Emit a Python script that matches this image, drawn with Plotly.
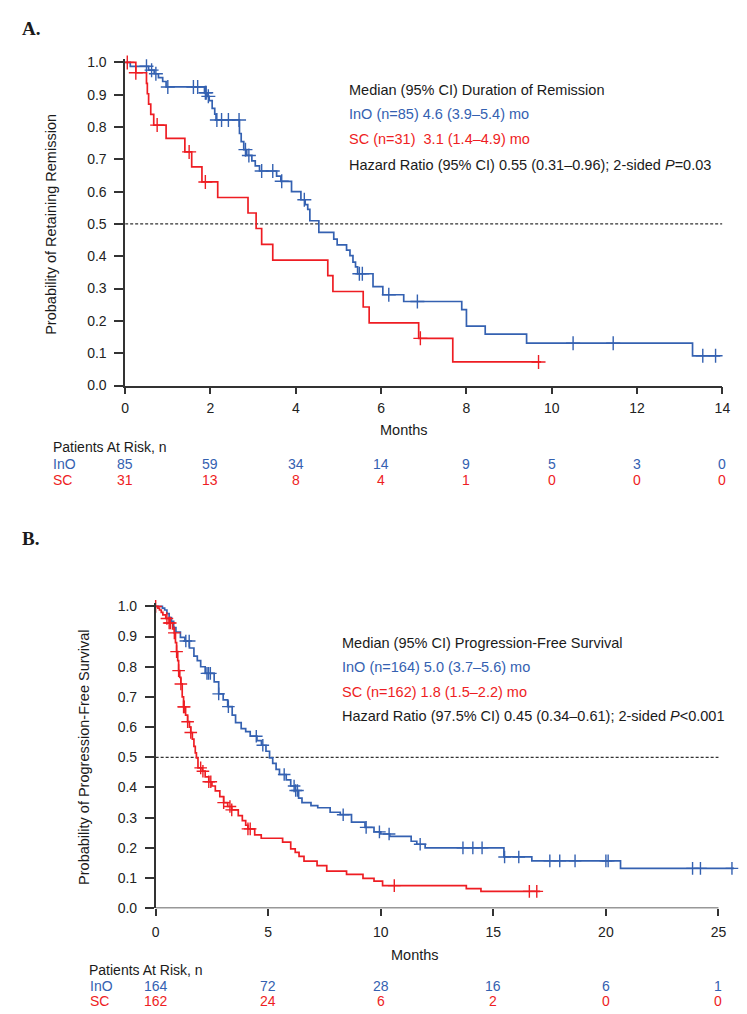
import numpy as np
import plotly.graph_objects as go

W, H = 747, 1014
BLUE = "#3461B1"
RED = "#EE1D23"
TXT = "#1a1a1a"
AX = "#333333"
FONT = "Liberation Sans, Arial, sans-serif"

# ---------------- Panel A: Duration of remission ----------------
a_ino_t = [0.12, 0.55, 0.68, 0.78, 0.88, 0.96, 1.86, 1.92, 1.97, 2.04, 2.10, 2.13,
           2.68, 2.72, 2.78, 2.85, 2.97, 3.05, 3.15, 3.55, 3.65, 3.90, 4.12, 4.22,
           4.28, 4.33, 4.54, 4.89, 4.97, 5.19, 5.27, 5.34, 5.40, 5.45, 5.81, 6.04,
           6.53, 7.89, 8.00, 8.44, 9.41, 13.30]
a_ino_s = [0.988, 0.976, 0.965, 0.953, 0.941, 0.924, 0.906, 0.895, 0.882, 0.858, 0.840, 0.822,
           0.780, 0.755, 0.730, 0.712, 0.695, 0.680, 0.664, 0.648, 0.632, 0.600, 0.575, 0.560,
           0.545, 0.510, 0.474, 0.453, 0.435, 0.419, 0.402, 0.382, 0.367, 0.346, 0.306, 0.281,
           0.260, 0.235, 0.184, 0.159, 0.131, 0.092]
a_ino_cens = [0.50, 0.62, 0.72, 1.00, 1.60, 1.70, 1.88, 1.90, 1.95, 2.15, 2.26, 2.42, 2.67,
              2.82, 2.90, 3.20, 3.46, 3.67, 4.20, 5.49, 5.56, 6.18, 6.85, 10.50, 11.44,
              13.54, 13.84]
a_ino_end = 13.95

a_sc_t = [0.25, 0.50, 0.52, 0.55, 0.60, 0.67, 0.96, 1.40, 1.56, 1.80, 2.17, 2.88, 3.07,
          3.20, 3.46, 4.75, 4.87, 5.58, 5.72, 6.88, 7.68]
a_sc_s = [0.968, 0.935, 0.903, 0.871, 0.839, 0.806, 0.765, 0.723, 0.677, 0.630, 0.582,
          0.534, 0.486, 0.437, 0.388, 0.340, 0.291, 0.243, 0.194, 0.146, 0.073]
a_sc_cens = [0.05, 0.25, 0.75, 1.50, 1.88, 6.92, 9.69]
a_sc_end = 9.75

a_ticks = [0, 2, 4, 6, 8, 10, 12, 14]
a_risk_ino = [85, 59, 34, 14, 9, 5, 3, 0]
a_risk_sc = [31, 13, 8, 4, 1, 0, 0, 0]

# ---------------- Panel B: Progression-free survival ----------------
b_ino_t = [0.30, 0.40, 0.50, 0.60, 0.70, 0.80, 0.90, 1.10, 1.30, 1.50, 1.70, 1.85, 2.00,
           2.20, 2.60, 2.80, 3.00, 3.20, 3.40, 3.55, 3.80, 4.00, 4.20, 4.50, 4.70, 4.90,
           5.06, 5.20, 5.35, 5.50, 5.80, 6.00, 6.20, 6.35, 6.50, 6.90, 7.20, 7.75, 8.20,
           8.70, 9.30, 9.70, 10.00, 10.40, 11.35, 11.60, 11.97, 15.47, 16.71, 20.65]
b_ino_s = [0.994, 0.988, 0.976, 0.963, 0.950, 0.930, 0.915, 0.897, 0.885, 0.862, 0.835,
           0.820, 0.800, 0.778, 0.750, 0.710, 0.690, 0.668, 0.640, 0.615, 0.595, 0.585,
           0.570, 0.555, 0.540, 0.520, 0.498, 0.480, 0.460, 0.443, 0.425, 0.405, 0.390,
           0.365, 0.350, 0.340, 0.333, 0.318, 0.310, 0.285, 0.268, 0.253, 0.246, 0.238,
           0.222, 0.212, 0.200, 0.170, 0.157, 0.132]
b_ino_cens = [1.34, 1.49, 2.28, 2.35, 2.43, 2.80, 3.23, 4.47, 4.76, 5.71, 6.15, 6.22, 6.30,
              8.33, 9.35, 9.94, 10.37, 11.75, 13.65, 14.09, 14.50, 15.50, 16.13, 17.51,
              17.95, 18.63, 20.00, 20.10, 23.85, 24.20, 25.60]
b_ino_end = 25.70

b_sc_t = [0.10, 0.17, 0.25, 0.32, 0.45, 0.60, 0.75, 0.83, 0.88, 0.93, 0.98, 1.02, 1.07,
          1.12, 1.18, 1.24, 1.33, 1.42, 1.50, 1.56, 1.63, 1.70, 1.76, 1.81, 1.88, 2.07,
          2.20, 2.36, 2.50, 2.65, 2.85, 3.02, 3.20, 3.38, 3.67, 3.85, 4.00, 4.10, 4.40,
          4.69, 5.64, 6.00, 6.20, 6.37, 6.59, 7.17, 7.60, 8.48, 9.21, 9.70, 10.08, 13.80,
          14.45]
b_sc_s = [0.994, 0.988, 0.980, 0.972, 0.960, 0.945, 0.925, 0.912, 0.880, 0.850, 0.820,
          0.787, 0.765, 0.743, 0.700, 0.667, 0.640, 0.618, 0.600, 0.582, 0.560, 0.536,
          0.515, 0.498, 0.465, 0.454, 0.435, 0.419, 0.405, 0.389, 0.370, 0.350, 0.337,
          0.326, 0.307, 0.290, 0.275, 0.263, 0.243, 0.232, 0.219, 0.197, 0.185, 0.172,
          0.156, 0.141, 0.123, 0.112, 0.099, 0.090, 0.075, 0.065, 0.056]
b_sc_cens = [0.00, 0.50, 0.60, 0.65, 0.83, 0.93, 1.02, 1.12, 1.24, 1.27, 1.42, 1.56, 2.00,
             2.10, 2.36, 2.45, 3.02, 3.30, 3.38, 4.10, 4.20, 10.60, 16.60, 16.93]
b_sc_end = 17.08

b_ticks = [0, 5, 10, 15, 20, 25]
b_risk_ino = [164, 72, 28, 16, 6, 1]
b_risk_sc = [162, 24, 6, 2, 0, 0]


def step_at(t, s, q):
    t = np.asarray(t)
    s = np.asarray(s)
    idx = np.searchsorted(t, np.asarray(q), side="right") - 1
    return np.where(idx >= 0, s[np.clip(idx, 0, None)], 1.0)


def px(x):
    return x / W


def py(y):
    return 1 - y / H


fig = go.Figure()


def add_curve(t, s, end, cens, color, xa, ya, msize):
    fig.add_trace(go.Scatter(
        x=[0] + list(t) + [end], y=[1.0] + list(s) + [s[-1]],
        mode="lines", line=dict(color=color, width=1.7, shape="hv"),
        xaxis=xa, yaxis=ya, hoverinfo="skip", showlegend=False))
    fig.add_trace(go.Scatter(
        x=cens, y=step_at(t, s, cens), mode="markers",
        marker=dict(symbol="cross-thin", size=msize, color=color,
                    line=dict(color=color, width=1.4)),
        cliponaxis=False, xaxis=xa, yaxis=ya, hoverinfo="skip", showlegend=False))


add_curve(a_ino_t, a_ino_s, a_ino_end, a_ino_cens, BLUE, "x", "y", 10)
add_curve(a_sc_t, a_sc_s, a_sc_end, a_sc_cens, RED, "x", "y", 10)
add_curve(b_ino_t, b_ino_s, b_ino_end, b_ino_cens, BLUE, "x2", "y2", 9)
add_curve(b_sc_t, b_sc_s, b_sc_end, b_sc_cens, RED, "x2", "y2", 9)

axis_common = dict(
    ticks="outside", tickwidth=1.5, tickcolor=AX, showgrid=False, zeroline=False,
    linecolor=AX, linewidth=1.5, tickfont=dict(family=FONT, size=14, color="#222"),
    fixedrange=True)

fig.update_layout(
    width=W, height=H, margin=dict(l=0, r=0, t=0, b=0),
    paper_bgcolor="white", plot_bgcolor="white",
    font=dict(family=FONT, size=14, color=TXT),
    xaxis=dict(domain=[px(115), px(722)], range=[0, 14], tickvals=a_ticks,
               showline=True, ticklen=7, anchor="y", ticklabelstandoff=2, **axis_common),
    yaxis=dict(domain=[py(378), py(47.1)], range=[0, 1.012],
               tickvals=[i / 10 for i in range(11)], tickformat=".1f",
               showline=True, ticklen=9, anchor="x", ticklabelstandoff=5, **axis_common),
    xaxis2=dict(domain=[px(146), px(734)], range=[0, 25.7], tickvals=b_ticks,
                showline=False, ticklen=7, anchor="y2", ticklabelstandoff=4, **axis_common),
    yaxis2=dict(domain=[py(907), py(597.8)], range=[0, 1.012],
                tickvals=[i / 10 for i in range(11)], tickformat=".1f",
                showline=True, ticklen=9, anchor="x2", ticklabelstandoff=5, **axis_common),
)

# x-axis line of panel B only to 25
fig.add_shape(type="line", xref="x2", yref="y2", x0=0, x1=25, y0=0, y1=0,
              line=dict(color=AX, width=1.5), layer="above")
# median reference lines
fig.add_shape(type="line", xref="x", yref="y", x0=0, x1=14, y0=0.5, y1=0.5,
              line=dict(color="#333", width=1.3, dash="3px,2px"), layer="below")
fig.add_shape(type="line", xref="x2", yref="y2", x0=0, x1=25, y0=0.5, y1=0.5,
              line=dict(color="#333", width=1.3, dash="3px,2px"), layer="below")

ann = []


def text(s, x, y, color=TXT, size=14.5, xanchor="left", xref="paper", **kw):
    ann.append(dict(text=s, x=x, y=py(y), xref=xref, yref="paper", showarrow=False,
                    xanchor=xanchor, yanchor="middle",
                    font=dict(family=kw.pop("family", FONT), size=size, color=color), **kw))


# panel labels
text("<b>A.</b>", px(8), 17, size=19, family="Liberation Serif, Times New Roman, serif")
text("<b>B.</b>", px(8), 533, size=19, family="Liberation Serif, Times New Roman, serif")

# y titles
text("Probability of Retaining Remission", px(40), 215, size=14.5, xanchor="center",
     textangle=-90)
text("Probability of Progression-Free Survival", px(73), 754, size=14.5,
     xanchor="center", textangle=-90)

# panel A legend text
text("Median (95% CI) Duration of Remission", px(340), 79)
text("InO (n=85) 4.6 (3.9\u20135.4) mo", px(340), 103, color=BLUE)
text("SC (n=31)\u00a0 3.1 (1.4\u20134.9) mo", px(340), 129, color=RED)
text("Hazard Ratio (95% CI) 0.55 (0.31\u20130.96); 2-sided <i>P</i>=0.03", px(340), 155)

# panel B legend text
text("Median (95% CI) Progression-Free Survival", px(333), 639)
text("InO (n=164) 5.0 (3.7\u20135.6) mo", px(333), 663, color=BLUE)
text("SC (n=162) 1.8 (1.5\u20132.2) mo", px(333), 688, color=RED)
text("Hazard Ratio (97.5% CI) 0.45 (0.34\u20130.61); 2-sided <i>P</i>&lt;0.001", px(333), 712)

# axis titles
text("Months", px(398), 423, size=14.5, xanchor="center")
text("Months", px(410), 954, size=14.5, xanchor="center")

# at-risk tables
text("Patients At Risk, n", px(40), 440, size=14)
text("InO", px(40), 457, color=BLUE, size=14)
text("SC", px(40), 474, color=RED, size=14)
for tv, n1, n2 in zip(a_ticks, a_risk_ino, a_risk_sc):
    text(str(n1), tv, 457, color=BLUE, size=14, xanchor="center", xref="x")
    text(str(n2), tv, 474, color=RED, size=14, xanchor="center", xref="x")

text("Patients At Risk, n", px(76), 969, size=14)
text("InO", px(77), 986, color=BLUE, size=14)
text("SC", px(77), 1001, color=RED, size=14)
for tv, n1, n2 in zip(b_ticks, b_risk_ino, b_risk_sc):
    text(str(n1), tv, 986, color=BLUE, size=14, xanchor="center", xref="x2")
    text(str(n2), tv, 1001, color=RED, size=14, xanchor="center", xref="x2")

fig.update_layout(annotations=ann)
fig.write_html("out.html")
